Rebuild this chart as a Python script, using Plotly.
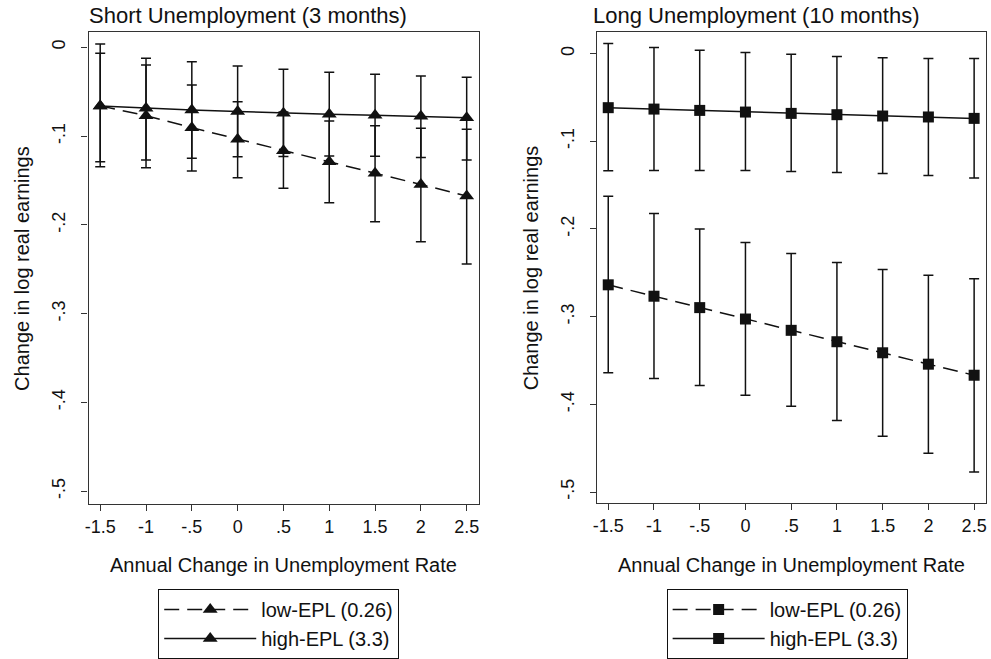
import plotly.graph_objects as go

W, H = 991, 659

x_vals = [-1.5, -1, -0.5, 0, 0.5, 1, 1.5, 2, 2.5]
x_ticktext = ["-1.5", "-1", "-.5", "0", ".5", "1", "1.5", "2", "2.5"]
y_tickvals = [0, -0.1, -0.2, -0.3, -0.4, -0.5]
y_ticktext = ["0", "-.1", "-.2", "-.3", "-.4", "-.5"]

# Short unemployment (3 months)
short_low_est = [-0.066, -0.077, -0.0905, -0.1035, -0.1164, -0.129, -0.1418, -0.1545, -0.1675]
short_low_hi = [-0.0068, -0.0199, -0.0425, -0.0613, -0.073, -0.083, -0.0883, -0.0912, -0.0923]
short_low_lo = [-0.1288, -0.1356, -0.1393, -0.1468, -0.1588, -0.175, -0.1964, -0.2189, -0.244]
short_high_est = [-0.066, -0.0687, -0.0706, -0.0723, -0.0742, -0.0755, -0.0766, -0.0778, -0.0795]
short_high_hi = [0.0037, -0.0124, -0.0162, -0.0211, -0.0248, -0.0282, -0.0304, -0.0323, -0.0338]
short_high_lo = [-0.1345, -0.1269, -0.125, -0.1232, -0.123, -0.1224, -0.1228, -0.124, -0.1269]

# Long unemployment (10 months)
long_low_est = [-0.2637, -0.2767, -0.2897, -0.3027, -0.3156, -0.3286, -0.3412, -0.3542, -0.3668]
long_low_hi = [-0.1626, -0.1824, -0.2, -0.2153, -0.2279, -0.2382, -0.2462, -0.2527, -0.2569]
long_low_lo = [-0.3641, -0.3706, -0.3786, -0.3897, -0.4023, -0.4183, -0.4363, -0.4557, -0.4771]
long_high_est = [-0.0617, -0.0633, -0.0648, -0.0667, -0.0682, -0.0697, -0.0712, -0.0723, -0.0739]
long_high_hi = [0.0114, 0.0068, 0.0038, 0.0011, -0.0008, -0.0034, -0.0049, -0.0057, -0.0057]
long_high_lo = [-0.1337, -0.1333, -0.1333, -0.1333, -0.1345, -0.1356, -0.1367, -0.139, -0.142]

names = ["low-EPL (0.26)", "high-EPL (3.3)"]

FONT = "Liberation Sans, Arial, Helvetica, sans-serif"
INK = "#111111"


def px_x(p):
    return p / W


def px_y(p):
    return 1 - p / H


def add_series(fig, est, hi, lo, name, dash, symbol, msize, xa, ya, legend):
    plus = [h - e for h, e in zip(hi, est)]
    minus = [e - l for e, l in zip(est, lo)]
    fig.add_trace(go.Scatter(
        x=x_vals, y=est, name=name, mode="lines+markers",
        line=dict(color=INK, width=1.5, dash=dash),
        marker=dict(symbol=symbol, size=msize, color=INK),
        error_y=dict(type="data", array=plus, arrayminus=minus, symmetric=False,
                     color=INK, thickness=1.5, width=5),
        xaxis=xa, yaxis=ya, legend=legend,
    ))


fig = go.Figure()
dash_pat = "15px,8px"
add_series(fig, short_low_est, short_low_hi, short_low_lo, names[0], dash_pat, "triangle-up", 13, "x", "y", "legend")
add_series(fig, short_high_est, short_high_hi, short_high_lo, names[1], "solid", "triangle-up", 13, "x", "y", "legend")
add_series(fig, long_low_est, long_low_hi, long_low_lo, names[0], dash_pat, "square", 11, "x2", "y2", "legend2")
add_series(fig, long_high_est, long_high_hi, long_high_lo, names[1], "solid", "square", 11, "x2", "y2", "legend2")

axis_common = dict(showline=True, linecolor="#333333", linewidth=1.3, mirror=True,
                   ticks="outside", ticklen=6, tickcolor="#333333", tickwidth=1.2,
                   showgrid=False, zeroline=False,
                   tickfont=dict(family=FONT, size=18, color=INK))

fig.update_layout(
    width=W, height=H,
    margin=dict(l=0, r=0, t=0, b=0),
    paper_bgcolor="white", plot_bgcolor="white",
    font=dict(family=FONT, color=INK),
    xaxis=dict(domain=[px_x(85), px_x(477)], range=[-1.627, 2.63],
               tickvals=x_vals, ticktext=x_ticktext, anchor="y", **axis_common),
    yaxis=dict(domain=[px_y(504), px_y(32)], range=[-0.5143, 0.0172],
               tickvals=y_tickvals, ticktext=y_ticktext, tickangle=-90, anchor="x",
               ticklabelstandoff=9, **axis_common),
    xaxis2=dict(domain=[px_x(596), px_x(987)], range=[-1.623, 2.63],
                tickvals=x_vals, ticktext=x_ticktext, anchor="y2", **axis_common),
    yaxis2=dict(domain=[px_y(503), px_y(32)], range=[-0.5125, 0.0246],
                tickvals=y_tickvals, ticktext=y_ticktext, tickangle=-90, anchor="x2",
                ticklabelstandoff=9, **axis_common),
    legend=dict(x=px_x(155), y=px_y(589), xanchor="left", yanchor="top",
                bordercolor=INK, borderwidth=1, bgcolor="white",
                font=dict(family=FONT, size=20, color=INK), itemwidth=92,
                tracegroupgap=0),
    legend2=dict(x=px_x(666), y=px_y(589), xanchor="left", yanchor="top",
                 bordercolor=INK, borderwidth=1, bgcolor="white",
                 font=dict(family=FONT, size=20, color=INK), itemwidth=92,
                 tracegroupgap=0),
    showlegend=True,
)

ann = []
ann.append(dict(text="Short Unemployment (3 months)", x=px_x(83), y=px_y(16), xanchor="left", yanchor="middle",
                font=dict(size=22)))
ann.append(dict(text="Long Unemployment (10 months)", x=px_x(590), y=px_y(16), xanchor="left", yanchor="middle",
                font=dict(size=22)))
for cx in [(85 + 477) / 2, (596 + 987) / 2]:
    ann.append(dict(text="Annual Change in Unemployment Rate", x=px_x(cx), y=px_y(565),
                    xanchor="center", yanchor="middle", font=dict(size=20)))
for cx in [18, 530]:
    ann.append(dict(text="Change in log real earnings", x=px_x(cx), y=px_y(268),
                    xanchor="center", yanchor="middle", textangle=-90, font=dict(size=20)))
for a in ann:
    a.update(xref="paper", yref="paper", showarrow=False)
    a["font"].update(family=FONT, color=INK)
fig.update_layout(annotations=ann)

fig.write_html("out.html")
